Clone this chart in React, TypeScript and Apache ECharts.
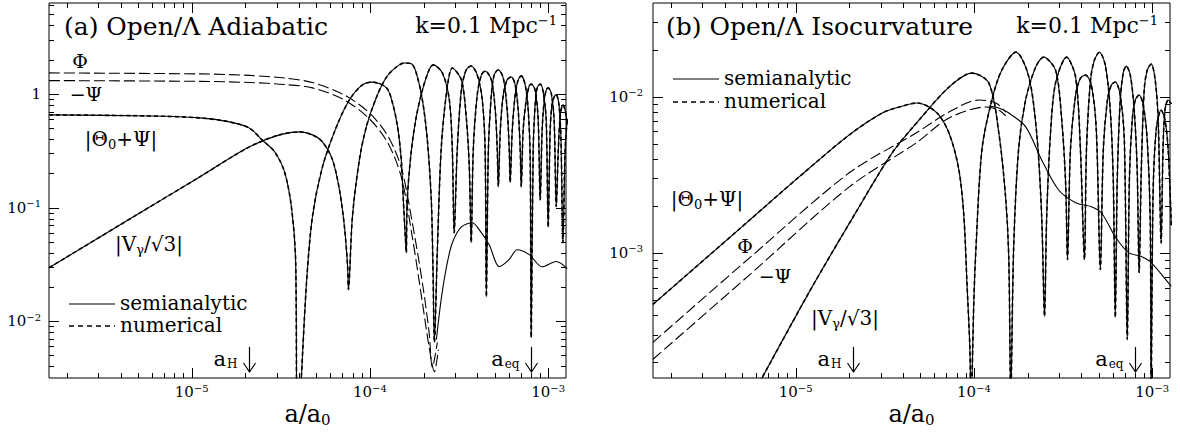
import React, { useEffect, useRef } from 'react';
import * as echarts from 'echarts';

const FONT = '"DejaVu Serif", serif';

// Axis ranges (a/a0 on x, amplitude on y)
const X_MIN = 1.585e-6;
const X_MAX = 1.259e-3;
const YA_MIN = 3.162e-3;
const YA_MAX = 6.31;
const YB_MIN = 1.585e-4;
const YB_MAX = 0.0398;

// Tick values
const xTicks = [2e-6, 3e-6, 4e-6, 5e-6, 6e-6, 7e-6, 8e-6, 9e-6, 1e-5, 2e-5, 3e-5, 4e-5, 5e-5, 6e-5, 7e-5, 8e-5, 9e-5, 1e-4, 2e-4, 3e-4, 4e-4, 5e-4, 6e-4, 7e-4, 8e-4, 9e-4, 1e-3];
const yTicksA = [4e-3, 5e-3, 6e-3, 7e-3, 8e-3, 9e-3, 1e-2, 2e-2, 3e-2, 4e-2, 5e-2, 6e-2, 7e-2, 8e-2, 9e-2, 0.1, 0.2, 0.3, 0.4, 0.5, 0.6, 0.7, 0.8, 0.9, 1, 2, 3, 4, 5, 6];
const yTicksB = [2e-4, 3e-4, 4e-4, 5e-4, 6e-4, 7e-4, 8e-4, 9e-4, 1e-3, 2e-3, 3e-3, 4e-3, 5e-3, 6e-3, 7e-3, 8e-3, 9e-3, 1e-2, 2e-2, 3e-2];

// Epoch markers
const markerValues = [2.1e-5, 8.0e-4];
const markerNames = ['H', 'eq'];

// ---------- Panel (a): Open/Lambda adiabatic ----------
const thetaA = [
  [1.585e-6, 0.654], [5.82e-6, 0.64], [1.11e-5, 0.615], [1.63e-5, 0.567], [2.11e-5, 0.5], [2.5e-5, 0.39], [2.92e-5, 0.31], [3.32e-5, 0.206], [3.63e-5, 0.101], [3.83e-5, 0.035], [3.93e-5, 0.001],
  [4.41e-5, 0.0218], [4.76e-5, 0.083], [5.42e-5, 0.228], [6.49e-5, 0.513], [7.67e-5, 0.885], [9.07e-5, 1.2], [1.03e-4, 1.27], [1.24e-4, 1.13], [1.34e-4, 0.83], [1.43e-4, 0.513], [1.5e-4, 0.263], [1.54e-4, 0.117], [1.58e-4, 0.055], [1.6e-4, 0.04],
  [1.62e-4, 0.117], [1.71e-4, 0.322], [1.82e-4, 0.628], [1.97e-4, 1.08], [2.15e-4, 1.63], [2.27e-4, 1.8], [2.55e-4, 1.53], [2.79e-4, 0.885], [2.9e-4, 0.322], [2.97e-4, 0.06],
  [3.09e-4, 0.322], [3.26e-4, 1.08], [3.47e-4, 1.63], [3.7e-4, 1.76], [4.0e-4, 1.47], [4.27e-4, 0.885], [4.43e-4, 0.322], [4.5e-4, 0.0164],
  [4.62e-4, 0.322], [4.8e-4, 0.98], [4.98e-4, 1.47], [5.25e-4, 1.63], [5.6e-4, 1.38], [5.89e-4, 0.72], [6.05e-4, 0.322], [6.12e-4, 0.166],
  [6.29e-4, 0.482], [6.53e-4, 0.98], [6.79e-4, 1.33], [7.06e-4, 1.44], [7.43e-4, 1.2], [7.73e-4, 0.72], [7.93e-4, 0.263], [8.03e-4, 0.0072],
  [8.24e-4, 0.322], [8.45e-4, 0.8], [8.67e-4, 1.13], [9.02e-4, 1.22], [9.38e-4, 1.04], [9.75e-4, 0.59], [1.0e-3, 0.067],
  [1.026e-3, 0.482], [1.05e-3, 0.8], [1.08e-3, 0.94], [1.11e-3, 0.98], [1.15e-3, 0.8], [1.18e-3, 0.394], [1.21e-3, 0.049],
  [1.245e-3, 0.322], [1.28e-3, 0.6],
];
const vA = [
  [1.585e-6, 0.0295], [4.92e-6, 0.0863], [1.11e-5, 0.186], [2.11e-5, 0.342], [3.11e-5, 0.436], [4.03e-5, 0.463], [4.76e-5, 0.436], [5.42e-5, 0.378], [6.17e-5, 0.263], [6.75e-5, 0.143], [7.2e-5, 0.0677], [7.5e-5, 0.0301], [7.58e-5, 0.019],
  [7.98e-5, 0.083], [8.73e-5, 0.263], [9.55e-5, 0.513], [1.09e-4, 0.94], [1.24e-4, 1.41], [1.41e-4, 1.73], [1.56e-4, 1.87], [1.71e-4, 1.84], [1.82e-4, 1.53], [1.97e-4, 0.885], [2.1e-4, 0.394], [2.21e-4, 0.117], [2.26e-4, 0.028], [2.3e-4, 0.0065],
  [2.39e-4, 0.0425], [2.51e-4, 0.322], [2.69e-4, 1.02], [2.9e-4, 1.69], [3.26e-4, 1.33], [3.47e-4, 0.628], [3.61e-4, 0.228], [3.7e-4, 0.049],
  [3.8e-4, 0.322], [4.0e-4, 0.98], [4.22e-4, 1.47], [4.43e-4, 1.59], [4.8e-4, 1.33], [5.05e-4, 0.72], [5.18e-4, 0.322], [5.25e-4, 0.153],
  [5.39e-4, 0.482], [5.6e-4, 0.98], [5.89e-4, 1.33], [6.21e-4, 1.41], [6.53e-4, 1.2], [6.79e-4, 0.72], [6.97e-4, 0.322], [7.06e-4, 0.153],
  [7.24e-4, 0.482], [7.53e-4, 0.885], [7.83e-4, 1.18], [8.03e-4, 1.22], [8.45e-4, 1.08], [8.79e-4, 0.59], [9.02e-4, 0.117],
  [9.25e-4, 0.482], [9.51e-4, 0.885], [9.75e-4, 1.08], [1.0e-3, 1.13], [1.04e-3, 1.02], [1.08e-3, 0.59], [1.11e-3, 0.102],
  [1.14e-3, 0.322], [1.17e-3, 0.654], [1.21e-3, 0.8], [1.245e-3, 0.72], [1.28e-3, 0.55],
];
const phiA = [
  [1.585e-6, 1.53], [1.11e-5, 1.5], [2.11e-5, 1.455], [3.32e-5, 1.38], [4.76e-5, 1.26], [7.19e-5, 0.98], [9.94e-5, 0.68], [1.26e-4, 0.427], [1.5e-4, 0.224], [1.73e-4, 0.0735], [1.97e-4, 0.0218], [2.15e-4, 0.0079], [2.24e-4, 0.0039], [2.39e-4, 0.0065],
];
const psiA = [
  [1.585e-6, 1.31], [1.11e-5, 1.29], [2.11e-5, 1.26], [3.32e-5, 1.21], [4.76e-5, 1.13], [7.19e-5, 0.885], [9.94e-5, 0.603], [1.26e-4, 0.371], [1.5e-4, 0.186], [1.73e-4, 0.055], [1.97e-4, 0.0146], [2.15e-4, 0.0059], [2.3e-4, 0.0036], [2.42e-4, 0.0056],
];
const lateA = [
  [2.36e-4, 0.00688], [2.51e-4, 0.0155], [2.69e-4, 0.0301], [2.9e-4, 0.049], [3.26e-4, 0.0677], [3.75e-4, 0.0734], [4.11e-4, 0.0637], [4.67e-4, 0.047], [5.32e-4, 0.0301], [6.05e-4, 0.035], [6.7e-4, 0.0425], [7.83e-4, 0.0385], [9.25e-4, 0.0301], [1.11e-3, 0.0335], [1.28e-3, 0.029],
];

// ---------- Panel (b): Open/Lambda isocurvature ----------
const thetaB = [
  [1.585e-6, 4.69e-4], [5.54e-6, 1.63e-3], [1.05e-5, 3.08e-3], [2.0e-5, 5.7e-3], [3.06e-5, 7.87e-3], [3.81e-5, 8.59e-3], [4.81e-5, 9.12e-3], [6.14e-5, 7.98e-3], [7.25e-5, 5.86e-3], [8.24e-5, 3.4e-3], [8.79e-5, 1.71e-3], [9.14e-5, 6.47e-4], [9.5e-5, 2.42e-4], [9.62e-5, 1.0e-4],
  [1.0e-4, 5.05e-4], [1.026e-4, 1.05e-3], [1.109e-4, 4.57e-3], [1.261e-4, 9.53e-3], [1.433e-4, 0.0148], [1.72e-4, 0.0193], [2.03e-4, 0.0135], [2.25e-4, 5.86e-3], [2.4e-4, 1.72e-3], [2.49e-4, 3.93e-4],
  [2.56e-4, 1.7e-3], [2.69e-4, 5.86e-3], [2.87e-4, 0.01223], [3.31e-4, 0.01792], [3.72e-4, 0.01336], [3.96e-4, 4.57e-3], [4.17e-4, 9.08e-4],
  [4.28e-4, 4.57e-3], [4.51e-4, 0.01279], [4.74e-4, 0.01714], [5.06e-4, 0.01928], [5.46e-4, 0.01592], [5.82e-4, 8.22e-3], [6.05e-4, 2.94e-3], [6.21e-4, 3.87e-4],
  [6.37e-4, 2.94e-3], [6.62e-4, 9.53e-3], [6.89e-4, 0.01436], [7.16e-4, 0.01571], [7.54e-4, 0.01375], [7.93e-4, 8.22e-3], [8.24e-4, 3.4e-3], [8.45e-4, 7.5e-4],
  [8.69e-4, 3.4e-3], [9.02e-4, 0.01104], [9.38e-4, 0.0148], [9.87e-4, 0.01618], [1.04e-3, 0.01279], [1.081e-3, 7.1e-3], [1.123e-3, 1.16e-3],
  [1.15e-3, 4.57e-3], [1.18e-3, 8.22e-3], [1.23e-3, 9.53e-3], [1.28e-3, 9.0e-3],
];
const vB = [
  [6.0e-6, 1.35e-4], [1.2e-5, 5.7e-4], [2.14e-5, 1.76e-3], [3.48e-5, 4.37e-3], [4.93e-5, 7.1e-3], [7.25e-5, 0.01153], [9.75e-5, 0.01416], [1.213e-4, 0.01223], [1.38e-4, 5.86e-3], [1.51e-4, 2.19e-3], [1.57e-4, 9.08e-4], [1.61e-4, 1.2e-4],
  [1.67e-4, 1.05e-3], [1.78e-4, 4.57e-3], [1.95e-4, 9.53e-3], [2.22e-4, 0.01547], [2.46e-4, 0.01792], [2.87e-4, 0.0148], [3.1e-4, 7.42e-3], [3.27e-4, 2.81e-3], [3.35e-4, 9.08e-4],
  [3.48e-4, 4.57e-3], [3.72e-4, 0.01026], [3.96e-4, 0.01315], [4.23e-4, 0.01375], [4.56e-4, 0.01188], [4.86e-4, 6.13e-3], [5.12e-4, 7.84e-4],
  [5.32e-4, 4.57e-3], [5.61e-4, 9.53e-3], [5.9e-4, 0.01188], [6.21e-4, 0.01242], [6.62e-4, 0.01026], [6.98e-4, 5.3e-3], [7.25e-4, 2.8e-4],
  [7.45e-4, 2.94e-3], [7.73e-4, 7.1e-3], [8.04e-4, 9.53e-3], [8.45e-4, 0.01026], [8.91e-4, 8.86e-3], [9.38e-4, 5.3e-3], [9.75e-4, 1.65e-3], [9.87e-4, 1.2e-4],
  [1.01e-3, 2.19e-3], [1.053e-3, 6.13e-3], [1.123e-3, 8.22e-3], [1.18e-3, 7.1e-3], [1.23e-3, 4.57e-3], [1.28e-3, 1.5e-3],
];
const phiB = [
  [1.585e-6, 2.68e-4], [5.54e-6, 9.35e-4], [2.0e-5, 3.26e-3], [4.74e-5, 5.86e-3], [7.25e-5, 7.98e-3], [1.067e-4, 9.53e-3], [1.327e-4, 9.12e-3], [1.51e-4, 7.98e-3],
];
const psiB = [
  [1.585e-6, 2.09e-4], [5.54e-6, 7.28e-4], [2.0e-5, 2.65e-3], [4.74e-5, 5.06e-3], [7.25e-5, 7.31e-3], [1.167e-4, 8.59e-3], [1.38e-4, 8.22e-3], [1.51e-4, 7.53e-3],
];
const lateB = [
  [1.213e-4, 8.73e-3], [1.38e-4, 8.48e-3], [1.57e-4, 7.87e-3], [1.954e-4, 6.41e-3], [2.4e-4, 3.94e-3], [2.98e-4, 2.54e-3], [3.72e-4, 2.1e-3], [4.56e-4, 1.98e-3], [5.19e-4, 1.81e-3], [6.21e-4, 1.27e-3], [7.34e-4, 1.01e-3], [8.69e-4, 9.49e-4], [9.87e-4, 8.69e-4], [1.23e-3, 6.47e-4], [1.28e-3, 6.1e-4],
];

// ---------- helpers ----------
const isMajor = (v: number) => {
  const e = Math.log10(v);
  return Math.abs(e - Math.round(e)) < 1e-6;
};

const powerLabel = (v: number) => {
  const e = Math.log10(v);
  const r = Math.round(e);
  if (Math.abs(e - r) > 1e-6) return '';
  if (r === 0) return '{b|1}';
  return `{b|10}{s|${r < 0 ? '−' : ''}${Math.abs(r)}}`;
};

const labelRich = {
  b: { fontSize: 15, fontFamily: FONT, color: '#000' },
  s: { fontSize: 10, fontFamily: FONT, color: '#000', padding: [0, 0, 8, 0] },
};

const SOLID = { color: '#000', width: 1.1 };
const NUMER = { color: '#000', width: 1.6, type: [4, 3] };
const LONGDASH = { color: '#000', width: 1.1, type: [11, 4] };

const lineS = (name: string, data: any, idx: number, lineStyle: any, z = 3) => ({
  type: 'line', name, data, xAxisIndex: idx, yAxisIndex: idx,
  symbol: 'none', showSymbol: false, smooth: 0.3, silent: true, clip: true,
  lineStyle, z,
});

const xTickSeries = (idx: number, yRef: number) => ({
  type: 'custom', xAxisIndex: idx, yAxisIndex: idx, silent: true, clip: false, z: 6,
  data: xTicks.map((v) => [v, yRef]),
  renderItem: (params: any, api: any) => {
    const v = api.value(0);
    const p = api.coord([v, api.value(1)]);
    const cs = params.coordSys;
    const len = isMajor(v) ? 10 : 5;
    const x = Math.round(p[0]) + 0.5;
    const st = { stroke: '#000', lineWidth: 1 };
    return {
      type: 'group',
      children: [
        { type: 'line', shape: { x1: x, y1: cs.y + cs.height, x2: x, y2: cs.y + cs.height - len }, style: st },
        { type: 'line', shape: { x1: x, y1: cs.y, x2: x, y2: cs.y + len }, style: st },
      ],
    };
  },
});

const yTickSeries = (idx: number, ticks: number[]) => ({
  type: 'custom', xAxisIndex: idx, yAxisIndex: idx, silent: true, clip: false, z: 6,
  data: ticks.map((v) => [X_MIN, v]),
  renderItem: (params: any, api: any) => {
    const v = api.value(1);
    const p = api.coord([api.value(0), v]);
    const cs = params.coordSys;
    const len = isMajor(v) ? 10 : 5;
    const y = Math.round(p[1]) + 0.5;
    const st = { stroke: '#000', lineWidth: 1 };
    return {
      type: 'group',
      children: [
        { type: 'line', shape: { x1: cs.x, y1: y, x2: cs.x + len, y2: y }, style: st },
        { type: 'line', shape: { x1: cs.x + cs.width, y1: y, x2: cs.x + cs.width - len, y2: y }, style: st },
      ],
    };
  },
});

const markerSeries = (idx: number, yRef: number) => ({
  type: 'custom', xAxisIndex: idx, yAxisIndex: idx, silent: true, clip: false, z: 7,
  data: markerValues.map((v) => [v, yRef]),
  renderItem: (params: any, api: any) => {
    const p = api.coord([api.value(0), api.value(1)]);
    const cs = params.coordSys;
    const x = Math.round(p[0]) + 0.5;
    const yb = cs.y + cs.height;
    const st = { stroke: '#000', lineWidth: 1.2, fill: 'none' };
    const name = markerNames[params.dataIndex];
    return {
      type: 'group',
      children: [
        { type: 'line', shape: { x1: x, y1: yb - 31, x2: x, y2: yb - 6 }, style: st },
        { type: 'polyline', shape: { points: [[x - 6, yb - 15], [x, yb - 6], [x + 6, yb - 15]] }, style: st },
        {
          type: 'text', x: x - 12, y: yb - 19,
          style: {
            text: `{a|a}{s|${name}}`,
            rich: {
              a: { fontSize: 21, fontFamily: FONT, fill: '#000' },
              s: { fontSize: 12, fontFamily: FONT, fill: '#000', padding: [10, 0, 0, 1] },
            },
            fill: '#000', align: 'right', verticalAlign: 'middle', textAlign: 'right', textVerticalAlign: 'middle',
          },
        },
      ],
    };
  },
});

const xAxisCfg = (gridIndex: number) => ({
  type: 'log', logBase: 10, gridIndex, min: X_MIN, max: X_MAX,
  axisLine: { show: false }, axisTick: { show: false }, splitLine: { show: false },
  axisLabel: { formatter: powerLabel, rich: labelRich, margin: 5, color: '#000', showMinLabel: false, showMaxLabel: false },
});
const yAxisCfg = (gridIndex: number, min: number, max: number, margin: number) => ({
  type: 'log', logBase: 10, gridIndex, min, max,
  axisLine: { show: false }, axisTick: { show: false }, splitLine: { show: false },
  axisLabel: { formatter: powerLabel, rich: labelRich, margin, color: '#000', showMinLabel: false, showMaxLabel: false },
});

const txt = (x: number, y: number, text: string, size: number, align = 'left', rich?: any) => ({
  type: 'text', x, y, silent: true, z: 10,
  style: {
    text, fill: '#000', font: `${size}px ${FONT}`, fontSize: size, fontFamily: FONT, lineHeight: size,
    align, verticalAlign: 'middle', textAlign: align, textVerticalAlign: 'middle',
    ...(rich ? { rich } : {}),
  },
});

const subRich = (size: number, sub: number, down: number) => ({
  t: { fontSize: size, fontFamily: FONT, fill: '#000' },
  s: { fontSize: sub, fontFamily: FONT, fill: '#000', padding: [down, 0, 0, 0] },
});
const supRich = (size: number, sup: number, up: number) => ({
  t: { fontSize: size, fontFamily: FONT, fill: '#000' },
  p: { fontSize: sup, fontFamily: FONT, fill: '#000', padding: [0, 0, up, 0] },
});

const legendEls = (x: number, y1: number, y2: number) => [
  { type: 'line', silent: true, shape: { x1: x, y1, x2: x + 46, y2: y1 }, style: { stroke: '#000', lineWidth: 1.1 } },
  { type: 'line', silent: true, shape: { x1: x, y1: y2, x2: x + 46, y2 }, style: { stroke: '#000', lineWidth: 1.3, lineDash: [5, 4] } },
  txt(x + 51, y1 - 1, 'semianalytic', 20),
  txt(x + 51, y2 - 1, 'numerical', 20),
];

export default function App() {
  const ref = useRef<HTMLDivElement>(null);
  useEffect(() => {
    if (!ref.current) return;
    const chart = echarts.init(ref.current, undefined, { renderer: 'svg' });
    const option: any = {
      animation: false,
      backgroundColor: '#fff',
      textStyle: { fontFamily: FONT },
      grid: [
        { left: 49, top: 3, width: 517, height: 375, show: true, borderColor: '#000', borderWidth: 1, backgroundColor: 'transparent', containLabel: false },
        { left: 653, top: 3, width: 517, height: 375, show: true, borderColor: '#000', borderWidth: 1, backgroundColor: 'transparent', containLabel: false },
      ],
      xAxis: [xAxisCfg(0), xAxisCfg(1)],
      yAxis: [yAxisCfg(0, YA_MIN, YA_MAX, 8), yAxisCfg(1, YB_MIN, YB_MAX, 10)],
      series: [
        lineS('Φ', phiA, 0, LONGDASH),
        lineS('−Ψ', psiA, 0, LONGDASH),
        lineS('semianalytic', lateA, 0, SOLID),
        lineS('semianalytic', thetaA, 0, SOLID),
        lineS('semianalytic', vA, 0, SOLID),
        lineS('numerical', thetaA, 0, NUMER, 4),
        lineS('numerical', vA, 0, NUMER, 4),
        lineS('Φ', phiB, 1, LONGDASH),
        lineS('−Ψ', psiB, 1, LONGDASH),
        lineS('semianalytic', lateB, 1, SOLID),
        lineS('semianalytic', thetaB, 1, SOLID),
        lineS('semianalytic', vB, 1, SOLID),
        lineS('numerical', thetaB, 1, NUMER, 4),
        lineS('numerical', vB, 1, NUMER, 4),
        xTickSeries(0, YA_MIN),
        xTickSeries(1, YB_MIN),
        yTickSeries(0, yTicksA),
        yTickSeries(1, yTicksB),
        markerSeries(0, YA_MIN),
        markerSeries(1, YB_MIN),
      ],
      graphic: [
        txt(64, 26, '(a) Open/Λ Adiabatic', 25),
        txt(557, 25, '{t|k=0.1 Mpc}{p|−1}', 22, 'right', supRich(22, 13, 10)),
        txt(80, 61, 'Φ', 19, 'center'),
        txt(86, 94, '−Ψ', 19, 'center'),
        txt(121, 139, '{t||Θ}{s|0}{t|+Ψ|}', 20, 'center', subRich(20, 13, 10)),
        txt(149, 244, '{t||V}{s|γ}{t|/√3|}', 20, 'center', subRich(20, 13, 10)),
        ...legendEls(69, 304, 326),
        txt(307.5, 414, '{t|a/a}{s|0}', 24, 'center', subRich(24, 15, 11)),

        txt(666, 26, '(b) Open/Λ Isocurvature', 25),
        txt(1158, 25, '{t|k=0.1 Mpc}{p|−1}', 22, 'right', supRich(22, 13, 10)),
        txt(707, 199, '{t||Θ}{s|0}{t|+Ψ|}', 20, 'center', subRich(20, 13, 10)),
        txt(745, 246, 'Φ', 19, 'center'),
        txt(775, 276, '−Ψ', 19, 'center'),
        txt(845, 318, '{t||V}{s|γ}{t|/√3|}', 20, 'center', subRich(20, 13, 10)),
        ...legendEls(673, 79, 102),
        txt(911.5, 414, '{t|a/a}{s|0}', 24, 'center', subRich(24, 15, 11)),
      ],
    };
    chart.setOption(option);
    return () => chart.dispose();
  }, []);
  return (
    <div
      ref={ref}
      style={{ position: 'absolute', left: 0, top: 0, width: 1180, height: 435, background: '#fff' }}
    />
  );
}
